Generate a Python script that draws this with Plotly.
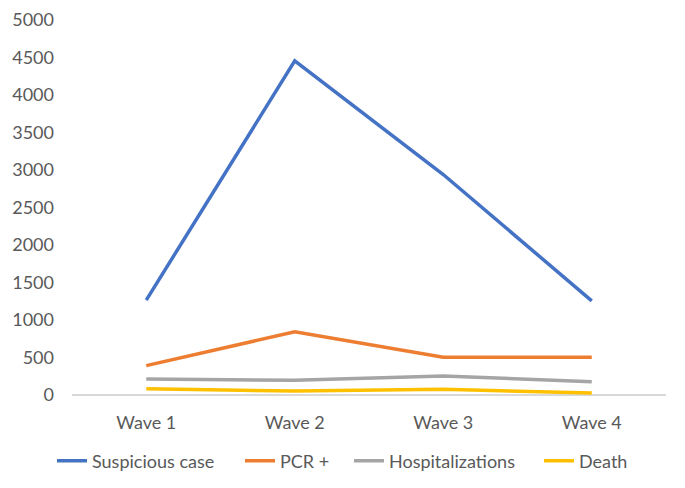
import plotly.graph_objects as go

waves = ["Wave 1", "Wave 2", "Wave 3", "Wave 4"]
suspicious = [1265, 4455, 2940, 1255]
pcr = [392, 843, 503, 503]
hosp = [213, 196, 253, 178]
death = [84, 53, 76, 27]

series = [
    ("Suspicious case", suspicious, "#4472C4"),
    ("PCR +", pcr, "#ED7D31"),
    ("Hospitalizations", hosp, "#A5A5A5"),
    ("Death", death, "#FFC000"),
]

font = dict(family="Lato, 'Open Sans', sans-serif", size=18, color="#595959")

# target plot area on screen (page body has an 8px offset)
PLOT_L, PLOT_W, PLOT_B, PLOT_H = 72, 594, 395, 375
legend_px = [52, 240, 349, 539]

fig = go.Figure()
layout_legends = {}
for i, (name, vals, col) in enumerate(series):
    lname = "legend" if i == 0 else f"legend{i+1}"
    fig.add_trace(go.Scatter(x=waves, y=vals, name=name, mode="lines",
                             line=dict(color=col, width=3.5), legend=lname))
    layout_legends[lname] = dict(
        x=(legend_px[i] - PLOT_L) / PLOT_W, xanchor="left",
        y=(PLOT_B - 461) / PLOT_H, yanchor="middle",
        font=font, itemwidth=30, bgcolor="rgba(0,0,0,0)",
        orientation="h",
    )

fig.update_layout(
    width=685, height=488,
    margin=dict(l=64, r=27, t=12, b=101, autoexpand=False),
    paper_bgcolor="white", plot_bgcolor="white",
    font=font,
    showlegend=True,
    xaxis=dict(showgrid=False, showline=False, zeroline=False, ticks="",
               tickfont=font, range=[-0.5, 3.5], automargin=False,
               ticklabelstandoff=15),
    yaxis=dict(range=[0, 5000], dtick=500, showgrid=False, zeroline=True,
               zerolinecolor="#D9D9D9", zerolinewidth=1.5, showline=False,
               ticks="", tickfont=font, ticklabelstandoff=17, automargin=False),
    **layout_legends,
)
fig.write_html("out.html")
